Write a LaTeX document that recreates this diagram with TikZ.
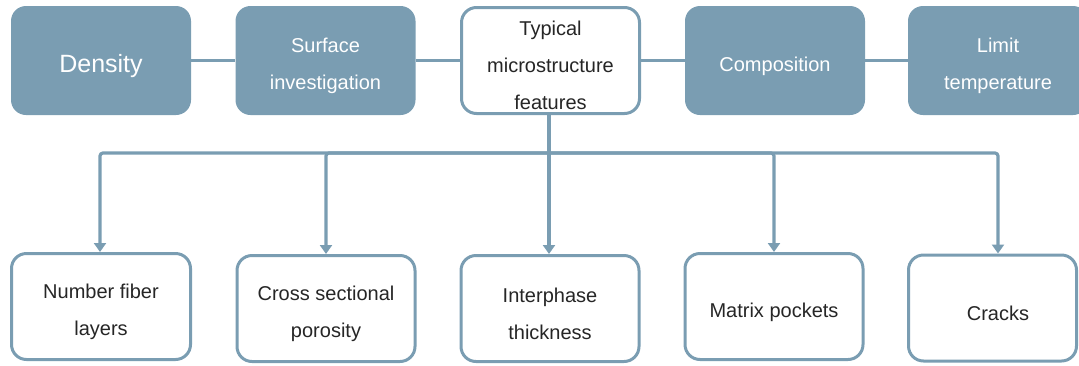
\documentclass[tikz,border=0pt]{standalone}
\usepackage{fontspec}
\setmainfont{Liberation Sans}
\usetikzlibrary{arrows.meta}
\definecolor{steel}{HTML}{7A9DB2}
\definecolor{ink}{HTML}{262626}
\tikzset{
  filledbox/.style={draw=none, fill=steel, rounded corners=15pt,
    minimum width=180pt, minimum height=109pt, inner sep=0pt},
  outlinebox/.style={draw=steel, line width=3pt, fill=white, rounded corners=15pt,
    minimum width=178pt, minimum height=106pt, inner sep=0pt},
  caption/.style={align=center, inner sep=0pt, yshift=-5.5pt,
    font=\fontsize{20}{37}\selectfont},
  lighttext/.style={caption, text=white},
  darktext/.style={caption, text=ink},
  link/.style={draw=steel, line width=3.2pt},
  branch/.style={draw=steel, line width=3.2pt, rounded corners=3pt,
    -{Triangle[width=12pt,length=9pt]}}
}
\begin{document}
\begin{tikzpicture}[x=1pt,y=-1pt]
\useasboundingbox (0,0) rectangle (1079,365);
\clip (0,0) rectangle (1079,365);

% top row
\node[filledbox] (dens) at (101,60.5) {};
\node[filledbox] (surf) at (325.5,60.5) {};
\node[outlinebox] (typ) at (550.5,60.5) {};
\node[filledbox] (comp) at (775,60.5) {};
\node[filledbox] (limit) at (998,60.5) {};

\node[lighttext, font=\fontsize{25}{30}\selectfont] (densT) at (dens.center) {Density};
\node[lighttext] (surfT) at (surf.center) {Surface\\investigation};
\node[darktext] (typT) at ([yshift=0.5pt]typ.center) {Typical\\microstructure\\features};
\node[lighttext] (compT) at (comp.center) {Composition};
\node[lighttext] (limitT) at (limit.center) {Limit\\temperature};

\draw[link] (dens.east) -- (surf.west);
\draw[link] (surf.east) -- (typ.west);
\draw[link] (typ.east) -- (comp.west);
\draw[link] (comp.east) -- (limit.west);

% bottom row
\node[outlinebox, minimum width=179pt] (fib) at (101,306.5) {};
\node[outlinebox] (poro) at (326,308.5) {};
\node[outlinebox] (inter) at (550,308.5) {};
\node[outlinebox] (pock) at (774,306.5) {};
\node[outlinebox, minimum width=168pt] (crack) at (992.5,308) {};

\node[darktext] (fibT) at (fib.center) {Number fiber\\layers};
\node[darktext] (poroT) at (poro.center) {Cross sectional\\porosity};
\node[darktext] (interT) at (inter.center) {Interphase\\thickness};
\node[darktext] (pockT) at (pock.center) {Matrix pockets};
\node[darktext] (crackT) at ([xshift=5.5pt]crack.center) {Cracks};

% distribution from the centre box
\coordinate (hub) at (549,153);
\draw[link] (typ.south -| hub) -- (hub);
\draw[branch] (hub) -| ([xshift=-1pt]fib.north);
\draw[branch] (hub) -| (poro.north);
\draw[branch] (hub) -- (hub |- inter.north);
\draw[branch] (hub) -| (pock.north);
\draw[branch] (hub) -| ([xshift=5.5pt]crack.north);
\end{tikzpicture}
\end{document}
